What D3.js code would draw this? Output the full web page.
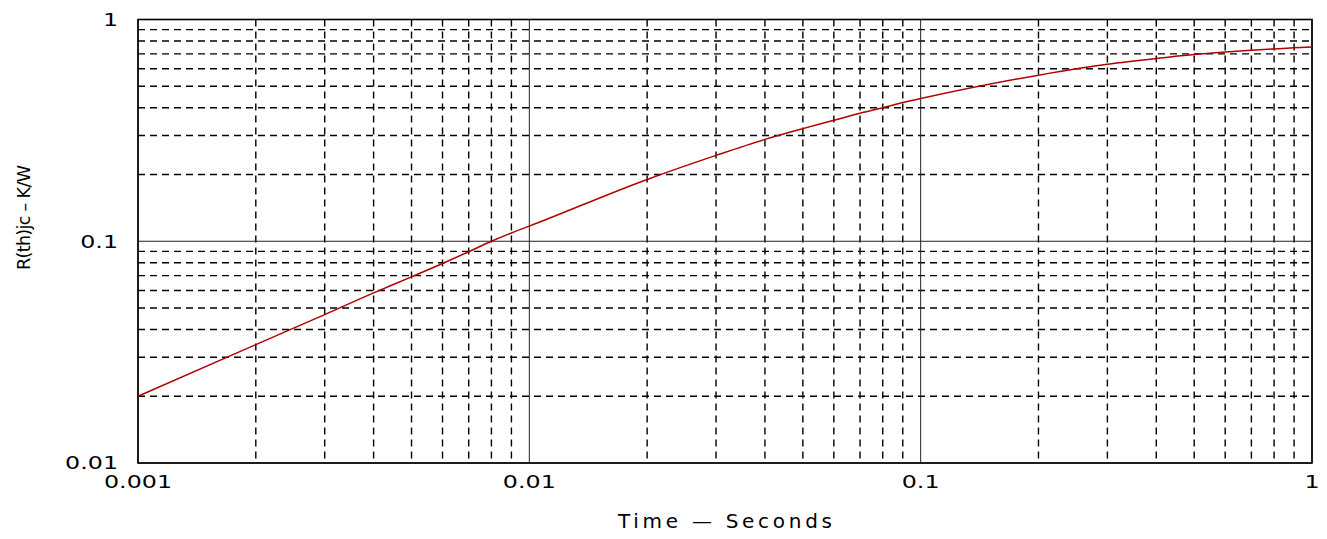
<!DOCTYPE html>
<html>
<head>
<meta charset="utf-8">
<script src="https://cdn.jsdelivr.net/npm/d3@7"></script>
<style>
  body { margin: 0; background: #fff; }
  text { font-family: "DejaVu Sans", sans-serif; fill: #000; }
</style>
</head>
<body>
<svg id="chart"></svg>
<script>
// transient thermal impedance at 1..9 per decade
const timeSec = [0.001, 0.002, 0.003, 0.004, 0.005, 0.006, 0.007, 0.008, 0.009,
                 0.01, 0.02, 0.03, 0.04, 0.05, 0.06, 0.07, 0.08, 0.09,
                 0.1, 0.2, 0.3, 0.4, 0.5, 0.6, 0.7, 0.8, 0.9, 1];
const rthjc = [0.020, 0.0342, 0.0467, 0.0585, 0.0691, 0.0794, 0.0897, 0.100, 0.109,
               0.117, 0.190, 0.244, 0.288, 0.322, 0.351, 0.378, 0.400, 0.422,
               0.440, 0.561, 0.628, 0.667, 0.695, 0.714, 0.727, 0.737, 0.745, 0.752];
const xTickLabels = ['0.001', '0.01', '0.1', '1'];
const yTickLabels = ['0.01', '0.1', '1'];

const W = 1327, H = 539;
const margin = { top: 19.5, right: 15, bottom: 76, left: 138 };
const width = W - margin.left - margin.right;
const height = H - margin.top - margin.bottom;

const svg = d3.select('#chart')
  .attr('width', W)
  .attr('height', H);

const g = svg.append('g')
  .attr('transform', `translate(${margin.left}, ${margin.top})`);

const x = d3.scaleLog().domain([0.001, 1]).range([0, width]);
const y = d3.scaleLog().domain([0.01, 1]).range([height, 0]);

const isMajor = v => Math.abs(Math.log10(v) - Math.round(Math.log10(v))) < 1e-9;

// minor grid (dashed)
g.selectAll('.vminor')
  .data(x.ticks().filter(v => !isMajor(v)))
  .enter().append('line')
  .attr('x1', d => x(d)).attr('x2', d => x(d))
  .attr('y1', 0).attr('y2', height)
  .attr('stroke', '#000').attr('stroke-width', 1.4)
  .attr('stroke-dasharray', '7,5');

g.selectAll('.hminor')
  .data(y.ticks().filter(v => !isMajor(v)))
  .enter().append('line')
  .attr('x1', 0).attr('x2', width)
  .attr('y1', d => y(d)).attr('y2', d => y(d))
  .attr('stroke', '#000').attr('stroke-width', 1.4)
  .attr('stroke-dasharray', '7,5');

// major grid (solid)
g.selectAll('.vmajor')
  .data(x.ticks().filter(isMajor))
  .enter().append('line')
  .attr('x1', d => x(d)).attr('x2', d => x(d))
  .attr('y1', 0).attr('y2', height)
  .attr('stroke', '#222').attr('stroke-width', 1);

g.selectAll('.hmajor')
  .data(y.ticks().filter(isMajor))
  .enter().append('line')
  .attr('x1', 0).attr('x2', width)
  .attr('y1', d => y(d)).attr('y2', d => y(d))
  .attr('stroke', '#222').attr('stroke-width', 1);

// frame
g.append('rect')
  .attr('width', width).attr('height', height)
  .attr('fill', 'none').attr('stroke', '#000').attr('stroke-width', 1.6);

// curve
const line = d3.line()
  .x((d, i) => x(timeSec[i]))
  .y(d => y(d))
  .curve(d3.curveMonotoneX);

g.append('path')
  .datum(rthjc)
  .attr('fill', 'none')
  .attr('stroke', '#b00000')
  .attr('stroke-width', 1.5)
  .attr('d', line);

// widen the labels, like the wide plotter font in the original
function widen(sel, k) {
  sel.each(function () {
    const len = this.getComputedTextLength();
    d3.select(this).attr('textLength', len * k).attr('lengthAdjust', 'spacingAndGlyphs');
  });
}

// x tick labels
g.selectAll('.xlab')
  .data(xTickLabels)
  .enter().append('text')
  .attr('x', d => x(+d))
  .attr('y', height + 25)
  .attr('text-anchor', 'middle')
  .style('font-size', '18px')
  .text(d => d)
  .call(widen, 1.32);

// y tick labels
g.selectAll('.ylab')
  .data(yTickLabels)
  .enter().append('text')
  .attr('x', -20)
  .attr('y', d => y(+d))
  .attr('dy', '0.36em')
  .attr('text-anchor', 'end')
  .style('font-size', '18px')
  .text(d => d)
  .call(widen, 1.32);

// axis titles
svg.append('text')
  .attr('x', margin.left + width / 2)
  .attr('y', 528)
  .attr('text-anchor', 'middle')
  .attr('textLength', 214)
  .attr('lengthAdjust', 'spacing')
  .style('font-size', '20px')
  .text('Time \u2014 Seconds');

svg.append('text')
  .attr('transform', 'translate(30, 217.5) rotate(-90)')
  .attr('text-anchor', 'middle')
  .attr('textLength', 105)
  .attr('lengthAdjust', 'spacing')
  .style('font-size', '17.5px')
  .text('R(th)jc \u2013 K/W');
</script>
</body>
</html>
